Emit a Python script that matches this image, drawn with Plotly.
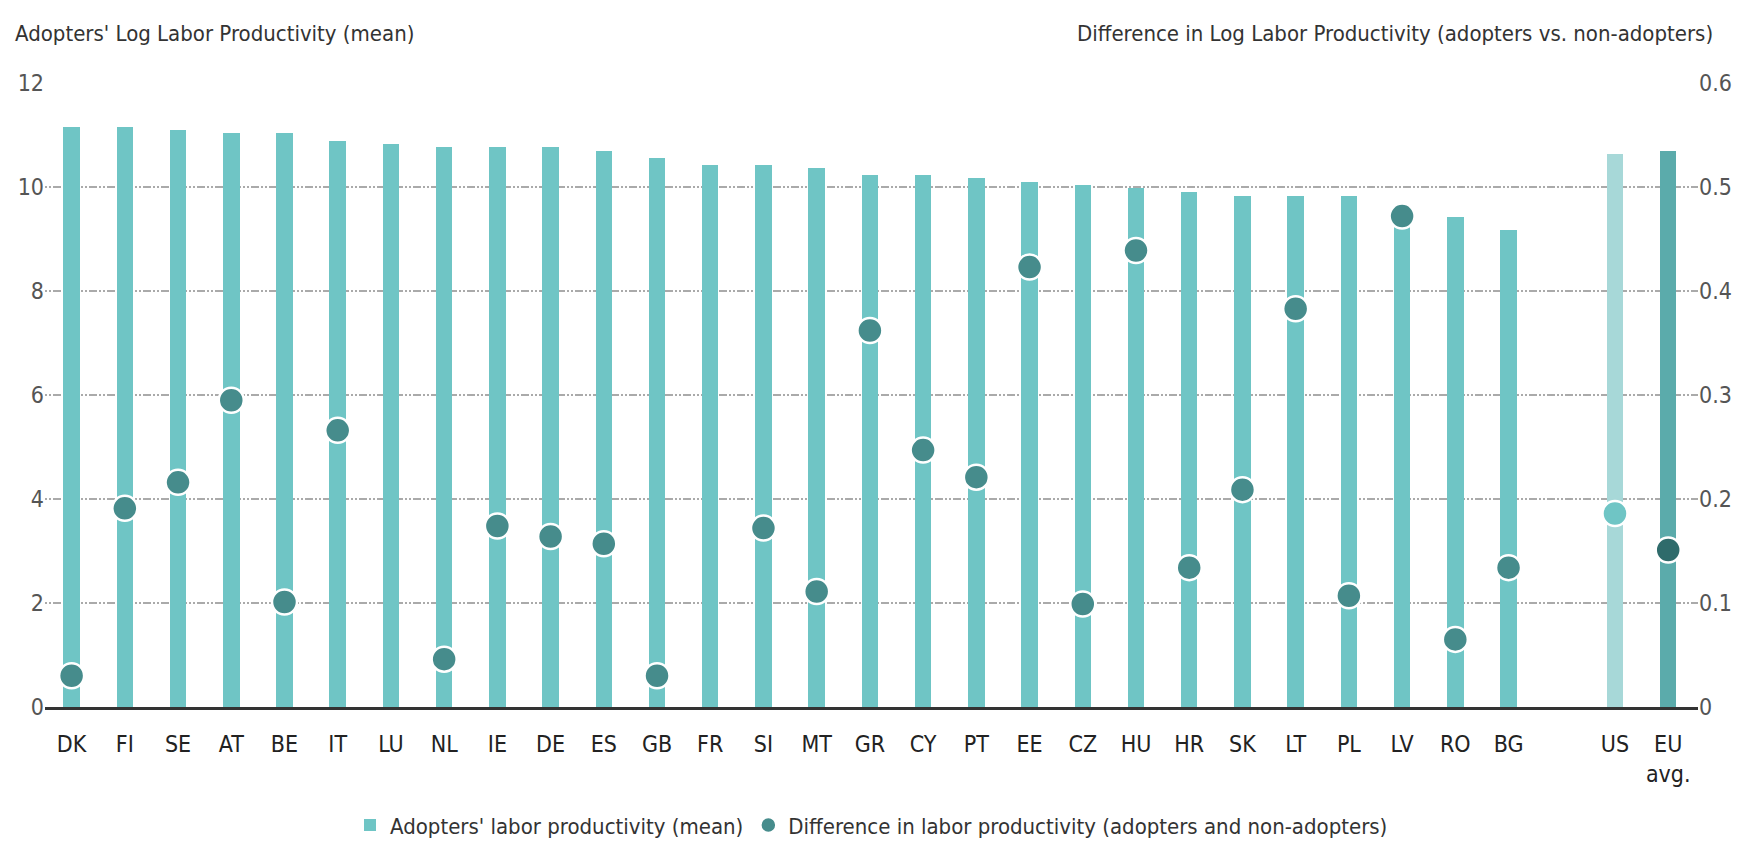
import plotly.graph_objects as go

# Countries (ordered by adopters' productivity), then US and EU average
countries = ["DK", "FI", "SE", "AT", "BE", "IT", "LU", "NL", "IE", "DE", "ES", "GB", "FR", "SI",
             "MT", "GR", "CY", "PT", "EE", "CZ", "HU", "HR", "SK", "LT", "PL", "LV", "RO", "BG"]
benchmarks = ["US", "EU<br>avg."]

# Adopters' log labor productivity (mean) - left axis
adopters_lp = [11.15, 11.15, 11.09, 11.03, 11.03, 10.89, 10.83, 10.76, 10.76, 10.76, 10.69, 10.56,
               10.43, 10.43, 10.37, 10.23, 10.23, 10.17, 10.10, 10.03, 9.99, 9.90, 9.83, 9.83,
               9.83, 9.60, 9.43, 9.18]
benchmark_lp = [10.63, 10.69]

# Difference in log labor productivity, adopters vs non-adopters - right axis
# (None where no difference is reported)
diff_lp = [0.030, 0.191, 0.216, 0.295, 0.101, 0.266, None, 0.046, 0.174, 0.164, 0.157, 0.030,
           None, 0.172, 0.111, 0.362, 0.247, 0.221, 0.423, 0.099, 0.439, 0.134, 0.209, 0.383,
           0.107, 0.472, 0.065, 0.134]
benchmark_diff = [0.186, 0.151]

left_ticks = [0, 2, 4, 6, 8, 10, 12]
right_ticks = [0, 0.1, 0.2, 0.3, 0.4, 0.5, 0.6]

# Numeric positions: one empty slot separates the benchmarks from the countries
x_countries = list(range(len(countries)))
x_bench = [len(countries) + 1, len(countries) + 2]
x_all = x_countries + x_bench
labels_all = countries + benchmarks

BAR = "#6fc5c5"
DOT = "#468c8c"
bar_colors = [BAR] * len(countries) + ["#a7d8d8", "#5babab"]
dot_colors = [DOT] * len(countries) + ["#6fc5c5", "#2f6b6b"]

FONT = "Liberation Sans Narrow, DejaVu Sans Condensed, Arial Narrow, sans-serif"

fig = go.Figure()

fig.add_trace(go.Bar(
    x=x_all, y=adopters_lp + benchmark_lp,
    width=0.31,
    marker=dict(color=bar_colors, line=dict(width=0)),
    name="Adopters' labor productivity (mean)",
    yaxis="y",
))

fig.add_trace(go.Scatter(
    x=x_all, y=diff_lp + benchmark_diff,
    mode="markers",
    marker=dict(size=25, color=dot_colors, line=dict(color="white", width=2.5)),
    name="Difference in labor productivity (adopters and non-adopters)",
    yaxis="y2",
))

fig.update_layout(
    width=1743, height=849,
    margin=dict(l=45, r=45, t=83, b=142, autoexpand=False),
    plot_bgcolor="white", paper_bgcolor="white",
    font=dict(family=FONT, size=22, color="#333333"),
    showlegend=True,
    legend=dict(orientation="h", x=0.5, xanchor="center",
                yref="container", y=0.028, yanchor="middle",
                font=dict(size=22, color="#333333"),
                traceorder="normal"),
    bargap=0,
    xaxis=dict(
        range=[-0.5, 30.56], automargin=False,
        tickmode="array", tickvals=x_all, ticktext=labels_all,
        showgrid=False, zeroline=False,
        showline=True, linecolor="#333333", linewidth=3,
        ticks="", ticklabelstandoff=14,
        tickfont=dict(size=23, color="#222222"),
    ),
    yaxis=dict(
        range=[0, 12], tickmode="array", tickvals=left_ticks, automargin=False,
        showgrid=True, gridcolor="#aaaaaa", gridwidth=1.5,
        griddash="2px,2px,2px,2px,8px,2px",
        zeroline=False, showline=False, ticks="",
        tickfont=dict(size=23, color="#555555"),
    ),
    yaxis2=dict(
        range=[0, 0.6], tickmode="array", tickvals=right_ticks, automargin=False,
        ticktext=["0", "0.1", "0.2", "0.3", "0.4", "0.5", "0.6"],
        overlaying="y", side="right",
        showgrid=False, zeroline=False, showline=False, ticks="",
        tickfont=dict(size=23, color="#555555"),
    ),
    annotations=[
        dict(text="Adopters' Log Labor Productivity (mean)", xref="paper", yref="paper",
             x=-0.0194, y=1.08, xanchor="left", yanchor="middle", showarrow=False,
             font=dict(size=22, color="#333333")),
        dict(text="Difference in Log Labor Productivity (adopters vs. non-adopters)",
             xref="paper", yref="paper", x=1.0103, y=1.08, xanchor="right",
             yanchor="middle", showarrow=False, font=dict(size=22, color="#333333")),
    ],
)

fig.write_html("out.html")
